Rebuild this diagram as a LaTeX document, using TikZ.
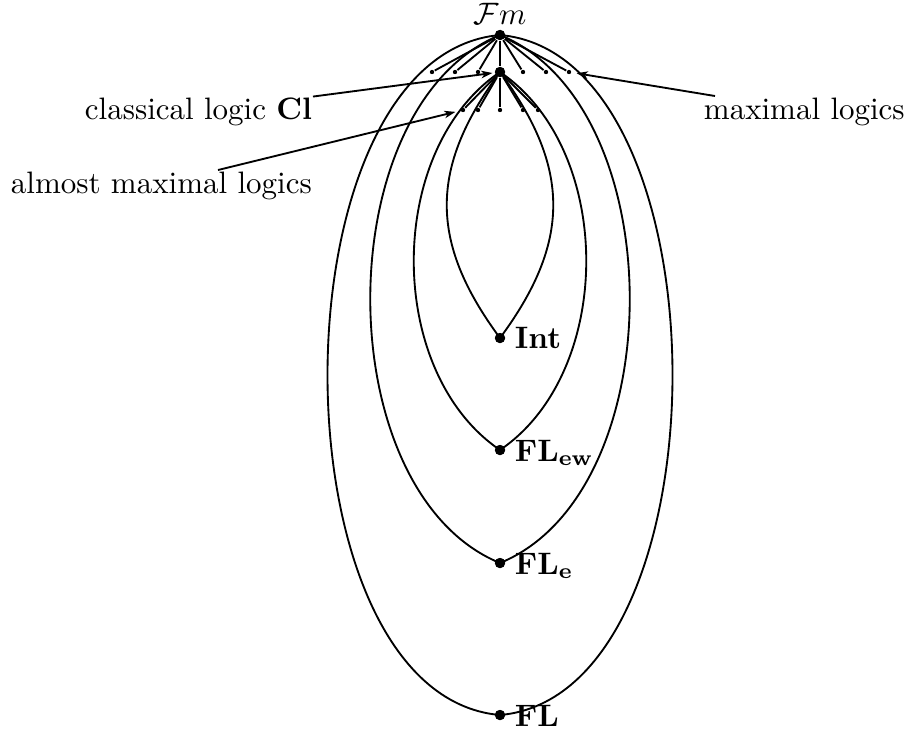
\documentclass[tikz,border=0pt]{standalone}
\usepackage{amsmath}
\usetikzlibrary{arrows.meta}
\begin{document}
\begin{tikzpicture}[x=0.3226pt,y=-0.3226pt,line width=0.6pt,
  bigdot/.style={circle,fill=black,inner sep=0pt,minimum size=3.3pt},
  smalldot/.style={circle,fill=black,inner sep=0pt,minimum size=1.4pt},
  lbl/.style={inner sep=0pt},
  pointer/.style={-{Stealth[length=3.6pt,width=2.4pt,inset=1pt]},shorten >=0.5pt}]
\useasboundingbox (0,0) rectangle (910,735);
% main points
\node[bigdot] (Fm) at (500,35) {};
\node[bigdot] (Cl) at (500,72) {};
\node[bigdot] (Int) at (500,338) {};
\node[bigdot] (FLew) at (500,450) {};
\node[bigdot] (FLe) at (500,563) {};
\node[bigdot] (FL) at (500,715) {};
% labels
\node[lbl,anchor=base] (FmL) at (500,24) {$\mathcal{F}m$};
\node[lbl,anchor=base west] (IntL) at (514,348) {$\mathbf{Int}$};
\node[lbl,anchor=base west] (FLewL) at (514,461) {$\mathbf{FL_{ew}}$};
\node[lbl,anchor=base west] (FLeL) at (514,574) {$\mathbf{FL_{e}}$};
\node[lbl,anchor=base west] (FLL) at (514,726) {$\mathbf{FL}$};
\node[lbl,anchor=base east] (clL) at (313,119) {classical logic $\mathbf{Cl}$};
\node[lbl,anchor=base west] (amL) at (10,193) {almost maximal logics};
\node[lbl,anchor=base west] (mlL) at (703,119) {maximal logics};
% small dots, first row (maximal logics)
\foreach \n/\x in {a/432,b/455,c/478,d/523,e/546,f/569}{
  \node[smalldot] (m\n) at (\x,72) {};
  \draw (Fm) -- (m\n);
}
\draw (Fm) -- (Cl);
% small dots, second row (almost maximal logics)
\foreach \n/\x in {a/463,b/478,c/500,d/523,e/538}{
  \node[smalldot] (am\n) at (\x,110) {};
  \draw (Cl) -- (am\n);
}
% loops
\draw (Cl.center) .. controls (429,168) and (429,242) .. (Int.center)
  .. controls (571,242) and (571,168) .. (Cl.center);
\draw (Cl.center) .. controls (385,150) and (385,372) .. (FLew.center)
  .. controls (615,372) and (615,150) .. (Cl.center);
\draw (Fm.center) .. controls (327,106) and (327,492) .. (FLe.center)
  .. controls (673,492) and (673,106) .. (Fm.center);
\draw (Fm.center) .. controls (270,55) and (270,695) .. (FL.center)
  .. controls (730,695) and (730,55) .. (Fm.center);
% pointers
\coordinate (amS) at (218,170);
\coordinate (mlS) at (715,96);
\draw[pointer] (clL.north east) -- (Cl);
\draw[pointer,shorten >=1.5pt] (amS) -- (ama);
\draw[pointer,shorten >=1.5pt] (mlS) -- (mf);
% redraw dots on top
\foreach \p in {Fm,Cl,Int,FLew,FLe,FL}{\fill (\p) circle (1.65pt);}
\end{tikzpicture}
\end{document}
